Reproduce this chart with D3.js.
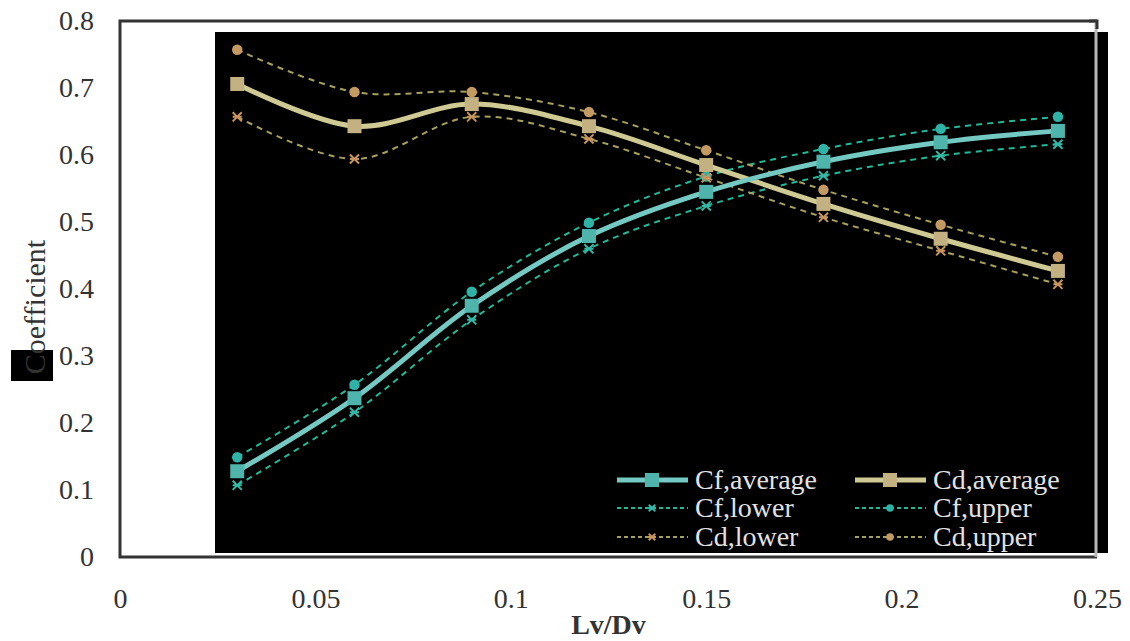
<!DOCTYPE html>
<html>
<head>
<meta charset="utf-8">
<script src="https://cdn.jsdelivr.net/npm/d3@7"></script>
<style>
  body { margin: 0; background: #fff; }
  svg { display: block; font-family: "Liberation Serif", "Times New Roman", serif; }
</style>
</head>
<body>
<div id="chart"></div>
<script>
// Lv/Dv positions
const lvdv = [0.03, 0.06, 0.09, 0.12, 0.15, 0.18, 0.21, 0.24];

// coefficient series
const cfAverage = [0.128, 0.237, 0.375, 0.479, 0.545, 0.590, 0.619, 0.636];
const cfUpper   = [0.149, 0.257, 0.396, 0.499, 0.568, 0.609, 0.639, 0.657];
const cfLower   = [0.107, 0.216, 0.354, 0.460, 0.524, 0.569, 0.599, 0.616];
const cdAverage = [0.706, 0.643, 0.676, 0.643, 0.585, 0.527, 0.475, 0.427];
const cdUpper   = [0.757, 0.694, 0.694, 0.664, 0.607, 0.548, 0.496, 0.448];
const cdLower   = [0.657, 0.594, 0.657, 0.624, 0.566, 0.507, 0.457, 0.407];

const xTicks = [0, 0.05, 0.1, 0.15, 0.2, 0.25];
const yTicks = [0, 0.1, 0.2, 0.3, 0.4, 0.5, 0.6, 0.7, 0.8];

const series = [
  {name: "Cf,average", vals: cfAverage, line: "#74c9c2", mark: "#4fb5ac", width: 5, dash: null, sym: "square"},
  {name: "Cd,average", vals: cdAverage, line: "#cfc994", mark: "#c4b182", width: 5, dash: null, sym: "square"},
  {name: "Cf,lower",   vals: cfLower,   line: "#22b996", mark: "#35b7a6", width: 2, dash: "6,5", sym: "x"},
  {name: "Cf,upper",   vals: cfUpper,   line: "#22b996", mark: "#2fb3a6", width: 2, dash: "6,5", sym: "circle"},
  {name: "Cd,lower",   vals: cdLower,   line: "#a6a15e", mark: "#c8945e", width: 2, dash: "6,5", sym: "x"},
  {name: "Cd,upper",   vals: cdUpper,   line: "#a6a15e", mark: "#c39b62", width: 2, dash: "6,5", sym: "circle"}
];

const W = 1130, H = 641;
const margin = {top: 21, right: 33, bottom: 84, left: 120};

const svg = d3.select("#chart").append("svg")
  .attr("width", W).attr("height", H);

const x = d3.scaleLinear().domain([0, 0.25]).range([margin.left, W - margin.right]);
const y = d3.scaleLinear().domain([0, 0.8]).range([H - margin.bottom, margin.top]);

// black panel behind the curves
svg.append("rect")
  .attr("x", 215).attr("y", 32)
  .attr("width", 893).attr("height", 521)
  .attr("fill", "#000");

// plot frame
svg.append("path")
  .attr("d", `M${x(0.25)},${y(0.8)} H${x(0)} V${y(0)} H${x(0.25)}`)
  .attr("fill", "none").attr("stroke", "#333").attr("stroke-width", 3);
svg.append("line")
  .attr("x1", x(0.25) - 1).attr("x2", x(0.25) - 1)
  .attr("y1", y(0.8)).attr("y2", y(0))
  .attr("stroke", "#b8b8b8").attr("stroke-width", 3);
svg.append("path")
  .attr("d", `M${x(0.25) - 8},${y(0.8)} H${x(0.25)} V${y(0.8) + 8}`)
  .attr("fill", "none").attr("stroke", "#333").attr("stroke-width", 3);

// axes (labels only, no tick marks)
const xAxis = svg.append("g")
  .attr("transform", `translate(0,${y(0)})`)
  .call(d3.axisBottom(x).tickValues(xTicks).tickSize(0).tickPadding(31).tickFormat(d => d3.format("")(+d.toFixed(2))));
const yAxis = svg.append("g")
  .attr("transform", `translate(${margin.left},0)`)
  .call(d3.axisLeft(y).tickValues(yTicks).tickSize(0).tickPadding(26).tickFormat(d => d3.format("")(+d.toFixed(1))));
[xAxis, yAxis].forEach(g => {
  g.select(".domain").remove();
  g.selectAll("text")
    .attr("font-family", "Liberation Serif, serif")
    .attr("font-size", 28)
    .attr("fill", "#333");
});

// axis titles
svg.append("text")
  .attr("x", (x(0) + x(0.25)) / 2).attr("y", 634)
  .attr("text-anchor", "middle")
  .attr("font-size", 28).attr("font-weight", "bold").attr("fill", "#333")
  .text("Lv/Dv");

svg.append("rect")
  .attr("x", 11).attr("y", 350).attr("width", 42).attr("height", 31)
  .attr("fill", "#000");
svg.append("clipPath").attr("id", "cclip")
  .append("rect").attr("x", 11).attr("y", 350).attr("width", 42).attr("height", 31);
svg.append("text")
  .attr("transform", "translate(45,307) rotate(-90)")
  .attr("text-anchor", "middle")
  .attr("font-size", 30).attr("fill", "#333")
  .text("Coefficient");
// the C sits on the black box, so its ink shows light there
svg.append("text")
  .attr("transform", "translate(45,307) rotate(-90)")
  .attr("text-anchor", "middle")
  .attr("font-size", 30).attr("fill", "#ddd")
  .attr("clip-path", "url(#cclip)")
  .text("Coefficient");

const line = d3.line()
  .x((d, i) => x(lvdv[i]))
  .y(d => y(d))
  .curve(d3.curveCatmullRom.alpha(0.5));

function drawMarker(g, sym, cx, cy, color, size) {
  if (sym === "square") {
    const s = size * 2;
    g.append("rect").attr("x", cx - s / 2).attr("y", cy - s / 2)
      .attr("width", s).attr("height", s).attr("fill", color);
  } else if (sym === "circle") {
    g.append("circle").attr("cx", cx).attr("cy", cy).attr("r", size * 0.75).attr("fill", color);
  } else {
    const r = size * 0.65;
    g.append("path")
      .attr("d", `M${cx - r},${cy - r}L${cx + r},${cy + r}M${cx + r},${cy - r}L${cx - r},${cy + r}M${cx - r},${cy}H${cx + r}`)
      .attr("stroke", color).attr("stroke-width", 2).attr("fill", "none");
  }
}

// dashed bounds first, averages on top
const order = [2, 3, 4, 5, 1, 0];
order.forEach(k => {
  const s = series[k];
  const g = svg.append("g");
  g.append("path")
    .datum(s.vals)
    .attr("d", line)
    .attr("fill", "none")
    .attr("stroke", s.line)
    .attr("stroke-width", s.width)
    .attr("stroke-dasharray", s.dash);
  s.vals.forEach((v, i) => drawMarker(g, s.sym, x(lvdv[i]), y(v), s.mark, 7));
});

// legend
const legend = svg.append("g");
const colX = [617, 855];
const rowY = [480, 508, 537];
series.forEach((s, i) => {
  const lx = colX[i % 2], ly = rowY[Math.floor(i / 2)];
  legend.append("line")
    .attr("x1", lx).attr("x2", lx + 71).attr("y1", ly).attr("y2", ly)
    .attr("stroke", s.line).attr("stroke-width", s.width)
    .attr("stroke-dasharray", s.dash ? "4,3" : null);
  drawMarker(legend, s.sym, lx + 35, ly, s.mark, s.sym === "square" ? 7 : 5);
  legend.append("text")
    .attr("x", lx + 78).attr("y", ly + 9)
    .attr("font-size", 28).attr("fill", "#e2e2e2")
    .text(s.name);
});
</script>
</body>
</html>
